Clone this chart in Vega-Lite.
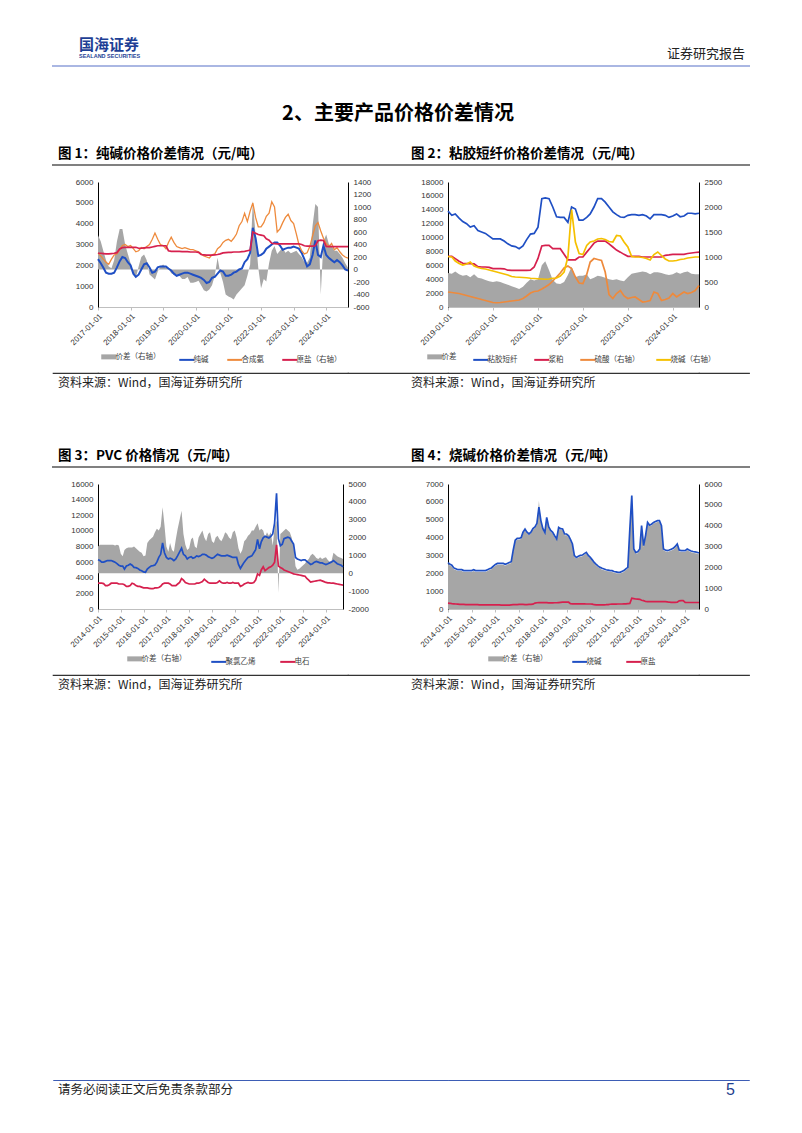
{
"$schema":"https://vega.github.io/schema/vega-lite/v6.json",
"background":"white",
"padding":{"left":52,"top":0,"right":0,"bottom":0},
"spacing":0,
"bounds":"flush",
"align":"each",
"columns":5,
"resolve":{"scale":{"color":"independent"},"legend":{"color":"independent"}},
"config":{
 "view":{"stroke":null},
 "concat":{"spacing":0},
 "font":"Noto Sans CJK SC",
 "axis":{"grid":false,"labelFont":"Liberation Sans","labelFontSize":8,"labelColor":"#333333","domainColor":"#000000","tickColor":"#000000","title":null},
 "legend":{"layout":{"bottom":{"anchor":"middle"}}},
 "line":{"strokeWidth":1.7},
 "area":{"opacity":1}
},
"datasets":{
"c1":[
{"d":"2017-01","a":2300,"b":2600,"c":260,"g":550},{"d":"2017-02","a":2100,"b":2450,"c":260,"g":450},{"d":"2017-03","a":1900,"b":2300,"c":255,"g":300},{"d":"2017-04","a":1650,"b":2150,"c":250,"g":150},{"d":"2017-05","a":1600,"b":2050,"c":250,"g":50},{"d":"2017-06","a":1600,"b":2300,"c":255,"g":20},{"d":"2017-07","a":1650,"b":2500,"c":260,"g":150},{"d":"2017-08","a":1900,"b":2550,"c":270,"g":450},{"d":"2017-09","a":2200,"b":2750,"c":330,"g":650},{"d":"2017-10","a":2400,"b":2950,"c":350,"g":650},{"d":"2017-11","a":2350,"b":3000,"c":355,"g":400},{"d":"2017-12","a":2150,"b":2900,"c":355,"g":250},
{"d":"2018-01","a":2000,"b":2950,"c":355,"g":100},{"d":"2018-02","a":1600,"b":2800,"c":355,"g":-80},{"d":"2018-03","a":1450,"b":2650,"c":355,"g":-130},{"d":"2018-04","a":1550,"b":2700,"c":340,"g":50},{"d":"2018-05","a":1800,"b":2850,"c":340,"g":200},{"d":"2018-06","a":2050,"b":2800,"c":345,"g":240},{"d":"2018-07","a":2100,"b":2900,"c":350,"g":150},{"d":"2018-08","a":1900,"b":3000,"c":350,"g":-80},{"d":"2018-09","a":1650,"b":3250,"c":360,"g":-120},{"d":"2018-10","a":1700,"b":3550,"c":370,"g":-160},{"d":"2018-11","a":1900,"b":3250,"c":380,"g":-30},{"d":"2018-12","a":1950,"b":3000,"c":380,"g":50},
{"d":"2019-01","a":1950,"b":2950,"c":380,"g":80},{"d":"2019-02","a":1950,"b":2800,"c":380,"g":30},{"d":"2019-03","a":1850,"b":3100,"c":300,"g":20},{"d":"2019-04","a":1750,"b":3350,"c":290,"g":-60},{"d":"2019-05","a":1600,"b":3100,"c":290,"g":-80},{"d":"2019-06","a":1500,"b":2900,"c":290,"g":-80},{"d":"2019-07","a":1550,"b":2850,"c":290,"g":-100},{"d":"2019-08","a":1600,"b":2800,"c":285,"g":-150},{"d":"2019-09","a":1650,"b":2850,"c":285,"g":-150},{"d":"2019-10","a":1650,"b":2800,"c":285,"g":-120},{"d":"2019-11","a":1600,"b":2750,"c":280,"g":-210},{"d":"2019-12","a":1550,"b":2750,"c":280,"g":-210},
{"d":"2020-01","a":1500,"b":2700,"c":280,"g":-200},{"d":"2020-02","a":1450,"b":2650,"c":275,"g":-180},{"d":"2020-03","a":1400,"b":2550,"c":240,"g":-250},{"d":"2020-04","a":1300,"b":2450,"c":235,"g":-330},{"d":"2020-05","a":1150,"b":2400,"c":230,"g":-350},{"d":"2020-06","a":1200,"b":2350,"c":230,"g":-320},{"d":"2020-07","a":1400,"b":2500,"c":230,"g":-250},{"d":"2020-08","a":1450,"b":2550,"c":235,"g":-100},{"d":"2020-09","a":1600,"b":2800,"c":240,"g":190},{"d":"2020-10","a":1750,"b":2900,"c":250,"g":-50},{"d":"2020-11","a":1700,"b":3100,"c":265,"g":-200},{"d":"2020-12","a":1500,"b":3200,"c":270,"g":-400},
{"d":"2021-01","a":1500,"b":3250,"c":275,"g":-430},{"d":"2021-02","a":1550,"b":3150,"c":275,"g":-450},{"d":"2021-03","a":1650,"b":3300,"c":280,"g":-480},{"d":"2021-04","a":1700,"b":3500,"c":280,"g":-400},{"d":"2021-05","a":1800,"b":3900,"c":280,"g":-350},{"d":"2021-06","a":1850,"b":4100,"c":285,"g":-300},{"d":"2021-07","a":2150,"b":4500,"c":290,"g":-250},{"d":"2021-08","a":2300,"b":4100,"c":300,"g":-100},{"d":"2021-09","a":2600,"b":4600,"c":310,"g":80},{"d":"2021-10","a":3800,"b":5000,"c":600,"g":1100},{"d":"2021-11","a":3300,"b":4300,"c":580,"g":550},{"d":"2021-12","a":2450,"b":3850,"c":560,"g":30},
{"d":"2022-01","a":2500,"b":3850,"c":550,"g":-300},{"d":"2022-02","a":2600,"b":4050,"c":540,"g":-150},{"d":"2022-03","a":2800,"b":4350,"c":490,"g":-190},{"d":"2022-04","a":2900,"b":4500,"c":470,"g":100},{"d":"2022-05","a":3000,"b":5050,"c":420,"g":300},{"d":"2022-06","a":3100,"b":4800,"c":415,"g":375},{"d":"2022-07","a":3100,"b":3600,"c":410,"g":250},{"d":"2022-08","a":2950,"b":3750,"c":410,"g":300},{"d":"2022-09","a":2750,"b":4050,"c":410,"g":350},{"d":"2022-10","a":2800,"b":4300,"c":410,"g":270},{"d":"2022-11","a":2850,"b":4450,"c":410,"g":300},{"d":"2022-12","a":2850,"b":4150,"c":410,"g":260},
{"d":"2023-01","a":2900,"b":4000,"c":410,"g":280},{"d":"2023-02","a":2850,"b":3500,"c":410,"g":300},{"d":"2023-03","a":2800,"b":3000,"c":410,"g":250},{"d":"2023-04","a":2600,"b":2700,"c":400,"g":200},{"d":"2023-05","a":2300,"b":2550,"c":380,"g":120},{"d":"2023-06","a":1950,"b":2600,"c":375,"g":110},{"d":"2023-07","a":2050,"b":2900,"c":375,"g":190},{"d":"2023-08","a":2500,"b":3400,"c":375,"g":700},{"d":"2023-09","a":3200,"b":3900,"c":380,"g":1050},{"d":"2023-10","a":2500,"b":4050,"c":460,"g":1000},{"d":"2023-11","a":2400,"b":3650,"c":470,"g":-400},{"d":"2023-12","a":2950,"b":3300,"c":465,"g":450},
{"d":"2024-01","a":2500,"b":3050,"c":370,"g":560},{"d":"2024-02","a":2350,"b":2900,"c":365,"g":400},{"d":"2024-03","a":2250,"b":3050,"c":365,"g":380},{"d":"2024-04","a":2150,"b":2750,"c":365,"g":300},{"d":"2024-05","a":2250,"b":2850,"c":365,"g":300},{"d":"2024-06","a":2150,"b":2650,"c":365,"g":250},{"d":"2024-07","a":2000,"b":2500,"c":365,"g":190},{"d":"2024-08","a":1800,"b":2400,"c":365,"g":100},{"d":"2024-09","a":1750,"b":2350,"c":365,"g":30}
],
"c2":[
{"d":"2019-01","a":13800,"b":7300,"g":4900,"s":300,"y":1010},{"d":"2019-02","a":13200,"b":7300,"g":4800,"s":290,"y":1000},{"d":"2019-03","a":13400,"b":6960,"g":5100,"s":280,"y":920},{"d":"2019-04","a":12800,"b":6600,"g":4700,"s":270,"y":870},{"d":"2019-05","a":12300,"b":6300,"g":4500,"s":250,"y":840},{"d":"2019-06","a":12000,"b":6240,"g":4600,"s":230,"y":860},{"d":"2019-07","a":11500,"b":6240,"g":4300,"s":210,"y":900},{"d":"2019-08","a":11700,"b":6200,"g":4700,"s":190,"y":820},{"d":"2019-09","a":11000,"b":5800,"g":4200,"s":170,"y":790},{"d":"2019-10","a":10800,"b":5760,"g":4100,"s":150,"y":770},{"d":"2019-11","a":10600,"b":5760,"g":3900,"s":130,"y":760},{"d":"2019-12","a":10200,"b":5700,"g":3700,"s":110,"y":740},
{"d":"2020-01","a":9800,"b":5520,"g":3600,"s":90,"y":720},{"d":"2020-02","a":9800,"b":5520,"g":3700,"s":85,"y":700},{"d":"2020-03","a":9800,"b":5520,"g":3600,"s":90,"y":680},{"d":"2020-04","a":9500,"b":5500,"g":3400,"s":100,"y":660},{"d":"2020-05","a":9100,"b":5300,"g":3200,"s":110,"y":640},{"d":"2020-06","a":8800,"b":5280,"g":3000,"s":120,"y":610},{"d":"2020-07","a":8700,"b":5280,"g":2800,"s":130,"y":600},{"d":"2020-08","a":8400,"b":5280,"g":2600,"s":140,"y":595},{"d":"2020-09","a":8800,"b":5280,"g":2900,"s":170,"y":590},{"d":"2020-10","a":9700,"b":5280,"g":3500,"s":220,"y":585},{"d":"2020-11","a":10500,"b":5300,"g":4000,"s":280,"y":575},{"d":"2020-12","a":10600,"b":5760,"g":3800,"s":310,"y":570},
{"d":"2021-01","a":11500,"b":7000,"g":4000,"s":320,"y":565},{"d":"2021-02","a":15600,"b":8800,"g":6000,"s":360,"y":560},{"d":"2021-03","a":15700,"b":8880,"g":6600,"s":400,"y":555},{"d":"2021-04","a":15600,"b":8880,"g":5300,"s":450,"y":560},{"d":"2021-05","a":14400,"b":8400,"g":3900,"s":520,"y":575},{"d":"2021-06","a":13000,"b":8400,"g":3400,"s":600,"y":580},{"d":"2021-07","a":12900,"b":8400,"g":3300,"s":680,"y":620},{"d":"2021-08","a":12900,"b":7600,"g":3600,"s":780,"y":700},{"d":"2021-09","a":12200,"b":6800,"g":4600,"s":820,"y":1000},{"d":"2021-10","a":14400,"b":6800,"g":5800,"s":770,"y":1950},{"d":"2021-11","a":14100,"b":6800,"g":4300,"s":600,"y":1300},{"d":"2021-12","a":12500,"b":7200,"g":4500,"s":480,"y":1070},
{"d":"2022-01","a":12500,"b":7200,"g":4500,"s":470,"y":1050},{"d":"2022-02","a":12900,"b":7900,"g":4700,"s":650,"y":1230},{"d":"2022-03","a":13400,"b":8500,"g":4000,"s":900,"y":1300},{"d":"2022-04","a":14400,"b":9200,"g":4200,"s":970,"y":1320},{"d":"2022-05","a":15600,"b":9500,"g":4500,"s":950,"y":1360},{"d":"2022-06","a":15600,"b":9500,"g":4400,"s":930,"y":1370},{"d":"2022-07","a":15100,"b":9500,"g":4200,"s":700,"y":1350},{"d":"2022-08","a":14400,"b":9100,"g":4000,"s":250,"y":1310},{"d":"2022-09","a":13700,"b":8640,"g":3900,"s":170,"y":1300},{"d":"2022-10","a":13300,"b":8200,"g":4000,"s":270,"y":1430},{"d":"2022-11","a":12960,"b":7900,"g":3800,"s":330,"y":1420},{"d":"2022-12","a":12900,"b":7580,"g":3700,"s":220,"y":1300},
{"d":"2023-01","a":13200,"b":7300,"g":4300,"s":170,"y":1200},{"d":"2023-02","a":13300,"b":7300,"g":4800,"s":190,"y":1010},{"d":"2023-03","a":13300,"b":7300,"g":4900,"s":200,"y":1000},{"d":"2023-04","a":13200,"b":7300,"g":5000,"s":150,"y":1000},{"d":"2023-05","a":13300,"b":7200,"g":5100,"s":100,"y":990},{"d":"2023-06","a":13100,"b":7200,"g":5000,"s":110,"y":970},{"d":"2023-07","a":12700,"b":7200,"g":4700,"s":130,"y":940},{"d":"2023-08","a":13300,"b":7200,"g":5000,"s":300,"y":1050},{"d":"2023-09","a":13300,"b":7200,"g":5000,"s":270,"y":1100},{"d":"2023-10","a":13300,"b":7200,"g":4900,"s":130,"y":1030},{"d":"2023-11","a":13200,"b":7440,"g":4700,"s":150,"y":960},{"d":"2023-12","a":12900,"b":7500,"g":4600,"s":180,"y":920},
{"d":"2024-01","a":13100,"b":7580,"g":4700,"s":270,"y":920},{"d":"2024-02","a":13400,"b":7580,"g":5000,"s":200,"y":930},{"d":"2024-03","a":13000,"b":7580,"g":4800,"s":250,"y":950},{"d":"2024-04","a":13100,"b":7580,"g":5000,"s":300,"y":960},{"d":"2024-05","a":13500,"b":7700,"g":5100,"s":270,"y":980},{"d":"2024-06","a":13500,"b":7780,"g":4800,"s":290,"y":990},{"d":"2024-07","a":13400,"b":7850,"g":4700,"s":330,"y":1000},{"d":"2024-08","a":13500,"b":7900,"g":4700,"s":430,"y":1000}
],
"c3":[
{"d":"2014-01","a":6300,"b":3300,"g":1500},{"d":"2014-02","a":6200,"b":3300,"g":1600},{"d":"2014-03","a":6000,"b":3300,"g":1600},{"d":"2014-04","a":6000,"b":3250,"g":1600},{"d":"2014-05","a":6100,"b":3000,"g":1600},{"d":"2014-06","a":6200,"b":3000,"g":1600},{"d":"2014-07","a":6200,"b":3100,"g":1600},{"d":"2014-08","a":6200,"b":3300,"g":1600},{"d":"2014-09","a":6100,"b":3300,"g":1600},{"d":"2014-10","a":6000,"b":3300,"g":1550},{"d":"2014-11","a":5800,"b":3300,"g":1600},{"d":"2014-12","a":5600,"b":3200,"g":1550},
{"d":"2015-01","a":5500,"b":3200,"g":1100},{"d":"2015-02","a":5500,"b":3200,"g":950},{"d":"2015-03","a":5100,"b":3100,"g":1300},{"d":"2015-04","a":5500,"b":2900,"g":1400},{"d":"2015-05","a":5600,"b":2900,"g":1450},{"d":"2015-06","a":5760,"b":3000,"g":1450},{"d":"2015-07","a":5600,"b":3300,"g":1450},{"d":"2015-08","a":5330,"b":3200,"g":1500},{"d":"2015-09","a":5300,"b":3000,"g":1400},{"d":"2015-10","a":5200,"b":2900,"g":1300},{"d":"2015-11","a":5000,"b":2900,"g":1200},{"d":"2015-12","a":4900,"b":2800,"g":1150},
{"d":"2016-01","a":4750,"b":2700,"g":950},{"d":"2016-02","a":4700,"b":2700,"g":1000},{"d":"2016-03","a":5100,"b":2700,"g":1700},{"d":"2016-04","a":5330,"b":2650,"g":1850},{"d":"2016-05","a":5500,"b":2600,"g":1950},{"d":"2016-06","a":5550,"b":2600,"g":2050},{"d":"2016-07","a":5630,"b":2700,"g":2300},{"d":"2016-08","a":6000,"b":2700,"g":2500},{"d":"2016-09","a":6600,"b":2750,"g":2400},{"d":"2016-10","a":7000,"b":2900,"g":2600},{"d":"2016-11","a":8450,"b":3200,"g":3700},{"d":"2016-12","a":7200,"b":3300,"g":2700},
{"d":"2017-01","a":6600,"b":3300,"g":1500},{"d":"2017-02","a":6400,"b":3300,"g":1200},{"d":"2017-03","a":6500,"b":3200,"g":1700},{"d":"2017-04","a":6400,"b":3000,"g":1300},{"d":"2017-05","a":6180,"b":3000,"g":1200},{"d":"2017-06","a":6400,"b":3000,"g":1900},{"d":"2017-07","a":6830,"b":3200,"g":2500},{"d":"2017-08","a":7300,"b":3400,"g":3000},{"d":"2017-09","a":7770,"b":3900,"g":3500},{"d":"2017-10","a":7000,"b":3700,"g":2200},{"d":"2017-11","a":6800,"b":3400,"g":1600},{"d":"2017-12","a":6400,"b":3300,"g":1300},
{"d":"2018-01","a":6600,"b":3200,"g":1400},{"d":"2018-02","a":6700,"b":3200,"g":1900},{"d":"2018-03","a":6500,"b":3200,"g":2000},{"d":"2018-04","a":6600,"b":3200,"g":1500},{"d":"2018-05","a":6800,"b":3300,"g":1400},{"d":"2018-06","a":6700,"b":3300,"g":2000},{"d":"2018-07","a":6800,"b":3400,"g":2200},{"d":"2018-08","a":7000,"b":3500,"g":2400},{"d":"2018-09","a":7000,"b":3800,"g":2000},{"d":"2018-10","a":6900,"b":3600,"g":1800},{"d":"2018-11","a":6700,"b":3400,"g":2200},{"d":"2018-12","a":6600,"b":3300,"g":2300},
{"d":"2019-01","a":6500,"b":3300,"g":1800},{"d":"2019-02","a":6600,"b":3300,"g":1700},{"d":"2019-03","a":6800,"b":3300,"g":2000},{"d":"2019-04","a":7000,"b":3400,"g":2100},{"d":"2019-05","a":6900,"b":3600,"g":1900},{"d":"2019-06","a":6800,"b":3400,"g":1800},{"d":"2019-07","a":6800,"b":3300,"g":2000},{"d":"2019-08","a":6800,"b":3300,"g":2300},{"d":"2019-09","a":6900,"b":3400,"g":2200},{"d":"2019-10","a":6800,"b":3300,"g":2000},{"d":"2019-11","a":6700,"b":3300,"g":1900},{"d":"2019-12","a":6600,"b":3400,"g":2300},
{"d":"2020-01","a":6600,"b":3300,"g":2400},{"d":"2020-02","a":6600,"b":3300,"g":2000},{"d":"2020-03","a":5700,"b":3300,"g":1400},{"d":"2020-04","a":5200,"b":2900,"g":1100},{"d":"2020-05","a":5600,"b":3000,"g":1300},{"d":"2020-06","a":6000,"b":3200,"g":1800},{"d":"2020-07","a":6300,"b":3300,"g":1900},{"d":"2020-08","a":6600,"b":3400,"g":2100},{"d":"2020-09","a":6700,"b":3300,"g":2200},{"d":"2020-10","a":6800,"b":3300,"g":2400},{"d":"2020-11","a":7200,"b":3400,"g":2400},{"d":"2020-12","a":7600,"b":3700,"g":2600},
{"d":"2021-01","a":8900,"b":4500,"g":2800},{"d":"2021-02","a":7700,"b":4300,"g":2400},{"d":"2021-03","a":8600,"b":5000,"g":2500},{"d":"2021-04","a":9100,"b":5400,"g":2400},{"d":"2021-05","a":9300,"b":4900,"g":2000},{"d":"2021-06","a":9200,"b":5100,"g":2300},{"d":"2021-07","a":9100,"b":5300,"g":2100},{"d":"2021-08","a":9300,"b":5400,"g":2300},{"d":"2021-09","a":9600,"b":5600,"g":1550},{"d":"2021-10","a":11000,"b":6000,"g":2570},{"d":"2021-11","a":14800,"b":8200,"g":2950},{"d":"2021-12","a":9000,"b":5500,"g":-1100},
{"d":"2022-01","a":8100,"b":5300,"g":2200},{"d":"2022-02","a":8300,"b":5200,"g":2300},{"d":"2022-03","a":9000,"b":5000,"g":2400},{"d":"2022-04","a":9100,"b":4900,"g":2500},{"d":"2022-05","a":9200,"b":4800,"g":2400},{"d":"2022-06","a":9100,"b":4700,"g":2300},{"d":"2022-07","a":8700,"b":4600,"g":2000},{"d":"2022-08","a":8300,"b":4500,"g":1500},{"d":"2022-09","a":6600,"b":4450,"g":400},{"d":"2022-10","a":6400,"b":4400,"g":200},{"d":"2022-11","a":6300,"b":4350,"g":250},{"d":"2022-12","a":6200,"b":4300,"g":350},
{"d":"2023-01","a":6300,"b":4250,"g":450},{"d":"2023-02","a":6300,"b":4200,"g":550},{"d":"2023-03","a":6100,"b":3900,"g":700},{"d":"2023-04","a":5900,"b":3700,"g":800},{"d":"2023-05","a":5700,"b":3450,"g":1000},{"d":"2023-06","a":5800,"b":3500,"g":1100},{"d":"2023-07","a":6000,"b":3550,"g":1000},{"d":"2023-08","a":6100,"b":3600,"g":850},{"d":"2023-09","a":6000,"b":3650,"g":800},{"d":"2023-10","a":5900,"b":3700,"g":900},{"d":"2023-11","a":5900,"b":3600,"g":800},{"d":"2023-12","a":5800,"b":3500,"g":850},
{"d":"2024-01","a":5700,"b":3400,"g":900},{"d":"2024-02","a":5800,"b":3350,"g":750},{"d":"2024-03","a":5900,"b":3350,"g":650},{"d":"2024-04","a":6000,"b":3300,"g":700},{"d":"2024-05","a":6200,"b":3300,"g":1150},{"d":"2024-06","a":6000,"b":3250,"g":1050},{"d":"2024-07","a":5800,"b":3200,"g":950},{"d":"2024-08","a":5700,"b":3150,"g":900},{"d":"2024-09","a":5600,"b":3100,"g":850},{"d":"2024-10","a":5400,"b":3050,"g":800}
],
"c4":[
{"d":"2014-01","a":2600,"b":330,"g":2170},{"d":"2014-02","a":2500,"b":320,"g":2080},{"d":"2014-03","a":2450,"b":300,"g":2040},{"d":"2014-04","a":2300,"b":290,"g":1910},{"d":"2014-05","a":2250,"b":280,"g":1870},{"d":"2014-06","a":2200,"b":270,"g":1830},{"d":"2014-07","a":2200,"b":260,"g":1830},{"d":"2014-08","a":2200,"b":260,"g":1830},{"d":"2014-09","a":2150,"b":260,"g":1780},{"d":"2014-10","a":2150,"b":250,"g":1780},{"d":"2014-11","a":2150,"b":250,"g":1780},{"d":"2014-12","a":2150,"b":250,"g":1780},
{"d":"2015-01","a":2150,"b":250,"g":1780},{"d":"2015-02","a":2200,"b":250,"g":1830},{"d":"2015-03","a":2150,"b":240,"g":1780},{"d":"2015-04","a":2150,"b":240,"g":1780},{"d":"2015-05","a":2150,"b":230,"g":1780},{"d":"2015-06","a":2150,"b":230,"g":1780},{"d":"2015-07","a":2150,"b":230,"g":1780},{"d":"2015-08","a":2150,"b":230,"g":1780},{"d":"2015-09","a":2200,"b":230,"g":1830},{"d":"2015-10","a":2250,"b":230,"g":1870},{"d":"2015-11","a":2300,"b":230,"g":1910},{"d":"2015-12","a":2400,"b":230,"g":2000},
{"d":"2016-01","a":2500,"b":230,"g":2080},{"d":"2016-02","a":2550,"b":230,"g":2130},{"d":"2016-03","a":2550,"b":230,"g":2130},{"d":"2016-04","a":2550,"b":220,"g":2130},{"d":"2016-05","a":2550,"b":220,"g":2130},{"d":"2016-06","a":2500,"b":220,"g":2080},{"d":"2016-07","a":2550,"b":220,"g":2130},{"d":"2016-08","a":2600,"b":220,"g":2170},{"d":"2016-09","a":2650,"b":230,"g":2210},{"d":"2016-10","a":3300,"b":240,"g":2770},{"d":"2016-11","a":3850,"b":250,"g":3240},{"d":"2016-12","a":3950,"b":250,"g":3330},
{"d":"2017-01","a":3950,"b":260,"g":3330},{"d":"2017-02","a":4000,"b":260,"g":3370},{"d":"2017-03","a":4300,"b":255,"g":3630},{"d":"2017-04","a":4480,"b":250,"g":3780},{"d":"2017-05","a":4300,"b":250,"g":3630},{"d":"2017-06","a":4200,"b":255,"g":3540},{"d":"2017-07","a":4300,"b":260,"g":3630},{"d":"2017-08","a":4500,"b":270,"g":3800},{"d":"2017-09","a":4600,"b":330,"g":3880},{"d":"2017-10","a":4800,"b":350,"g":4050},{"d":"2017-11","a":5700,"b":355,"g":5190},{"d":"2017-12","a":4950,"b":355,"g":4180},
{"d":"2018-01","a":4500,"b":355,"g":3800},{"d":"2018-02","a":4290,"b":355,"g":3620},{"d":"2018-03","a":5130,"b":355,"g":4340},{"d":"2018-04","a":4600,"b":340,"g":3880},{"d":"2018-05","a":4400,"b":340,"g":3710},{"d":"2018-06","a":4290,"b":345,"g":3620},{"d":"2018-07","a":4100,"b":350,"g":3450},{"d":"2018-08","a":3920,"b":350,"g":3300},{"d":"2018-09","a":4570,"b":360,"g":3860},{"d":"2018-10","a":4500,"b":370,"g":3800},{"d":"2018-11","a":4480,"b":380,"g":3780},{"d":"2018-12","a":4200,"b":380,"g":3540},
{"d":"2019-01","a":4200,"b":380,"g":3540},{"d":"2019-02","a":4100,"b":380,"g":3450},{"d":"2019-03","a":3900,"b":300,"g":3280},{"d":"2019-04","a":3640,"b":290,"g":3060},{"d":"2019-05","a":2990,"b":290,"g":2500},{"d":"2019-06","a":2890,"b":290,"g":2420},{"d":"2019-07","a":2950,"b":290,"g":2470},{"d":"2019-08","a":3000,"b":285,"g":2510},{"d":"2019-09","a":3020,"b":285,"g":2530},{"d":"2019-10","a":3100,"b":285,"g":2600},{"d":"2019-11","a":3170,"b":280,"g":2660},{"d":"2019-12","a":3000,"b":280,"g":2510},
{"d":"2020-01","a":2890,"b":280,"g":2420},{"d":"2020-02","a":2750,"b":275,"g":2300},{"d":"2020-03","a":2610,"b":240,"g":2180},{"d":"2020-04","a":2500,"b":235,"g":2080},{"d":"2020-05","a":2400,"b":230,"g":2000},{"d":"2020-06","a":2330,"b":230,"g":1940},{"d":"2020-07","a":2280,"b":230,"g":1890},{"d":"2020-08","a":2240,"b":235,"g":1860},{"d":"2020-09","a":2200,"b":240,"g":1830},{"d":"2020-10","a":2180,"b":250,"g":1810},{"d":"2020-11","a":2150,"b":265,"g":1780},{"d":"2020-12","a":2150,"b":270,"g":1780},
{"d":"2021-01","a":2100,"b":275,"g":1740},{"d":"2021-02","a":2080,"b":275,"g":1720},{"d":"2021-03","a":2050,"b":280,"g":1700},{"d":"2021-04","a":2050,"b":280,"g":1700},{"d":"2021-05","a":2100,"b":280,"g":1740},{"d":"2021-06","a":2150,"b":285,"g":1780},{"d":"2021-07","a":2250,"b":290,"g":1870},{"d":"2021-08","a":2330,"b":300,"g":1940},{"d":"2021-09","a":4480,"b":310,"g":3780},{"d":"2021-10","a":6350,"b":600,"g":5380},{"d":"2021-11","a":3360,"b":580,"g":2820},{"d":"2021-12","a":3170,"b":560,"g":2660},
{"d":"2022-01","a":3200,"b":550,"g":2680},{"d":"2022-02","a":3360,"b":540,"g":2820},{"d":"2022-03","a":4670,"b":490,"g":3940},{"d":"2022-04","a":3550,"b":470,"g":2980},{"d":"2022-05","a":4110,"b":420,"g":3460},{"d":"2022-06","a":4850,"b":415,"g":4100},{"d":"2022-07","a":4700,"b":410,"g":3970},{"d":"2022-08","a":4750,"b":410,"g":4010},{"d":"2022-09","a":4850,"b":410,"g":4100},{"d":"2022-10","a":4900,"b":410,"g":4140},{"d":"2022-11","a":4950,"b":410,"g":4180},{"d":"2022-12","a":4950,"b":410,"g":4180},
{"d":"2023-01","a":4670,"b":410,"g":3940},{"d":"2023-02","a":3360,"b":410,"g":2820},{"d":"2023-03","a":3300,"b":410,"g":2770},{"d":"2023-04","a":3270,"b":400,"g":2740},{"d":"2023-05","a":3300,"b":380,"g":2770},{"d":"2023-06","a":3350,"b":375,"g":2810},{"d":"2023-07","a":3400,"b":375,"g":2850},{"d":"2023-08","a":3500,"b":375,"g":2940},{"d":"2023-09","a":3640,"b":380,"g":3060},{"d":"2023-10","a":3300,"b":460,"g":2770},{"d":"2023-11","a":3270,"b":470,"g":2740},{"d":"2023-12","a":3270,"b":465,"g":2740},
{"d":"2024-01","a":3270,"b":370,"g":2740},{"d":"2024-02","a":3360,"b":365,"g":2820},{"d":"2024-03","a":3300,"b":365,"g":2770},{"d":"2024-04","a":3250,"b":365,"g":2730},{"d":"2024-05","a":3220,"b":365,"g":2700},{"d":"2024-06","a":3200,"b":365,"g":2680},{"d":"2024-07","a":3180,"b":365,"g":2660},{"d":"2024-08","a":3140,"b":365,"g":2630}
]
},
"concat":[
{"width":45,"height":66,"data":{"values":[]},"mark":"point"},
{"width":1,"height":1,"data":{"values":[]},"mark":"point"},
{"width":1,"height":1,"data":{"values":[]},"mark":"point"},
{"width":1,"height":1,"data":{"values":[]},"mark":"point"},
{"width":1,"height":1,"data":{"values":[]},"mark":"point"},

{"width":45,"height":0.01,"data":{"values":[]},"mark":"point","view":{"stroke":"#aab7e3","strokeWidth":2},
 "title":{"text":"国海证券","subtitle":"SEALAND SECURITIES","anchor":"start","dx":26,"offset":7,"fontSize":15,"font":"Noto Sans CJK SC","fontWeight":"bold","color":"#1e3f95","subtitleFont":"Liberation Sans","subtitleFontSize":5.5,"subtitleFontWeight":"bold","subtitleColor":"#1e3f95","subtitlePadding":1}},
{"width":250,"height":0.01,"data":{"values":[]},"mark":"point","view":{"stroke":"#aab7e3","strokeWidth":2}},
{"width":100,"height":0.01,"data":{"values":[]},"mark":"point","view":{"stroke":"#aab7e3","strokeWidth":2}},
{"width":251,"height":0.01,"data":{"values":[]},"mark":"point","view":{"stroke":"#aab7e3","strokeWidth":2}},
{"width":50,"height":0.01,"data":{"values":[]},"mark":"point","view":{"stroke":"#aab7e3","strokeWidth":2},
 "title":{"text":"证券研究报告","anchor":"end","dx":-4,"offset":5,"fontSize":13,"font":"Noto Sans CJK SC","fontWeight":"normal","color":"#222222"}},

{"width":1,"height":98,"data":{"values":[]},"mark":"point"},
{"width":1,"height":1,"data":{"values":[]},"mark":"point"},
{"width":100,"height":1,"data":{"values":[]},"mark":"point",
 "title":{"text":"2、主要产品价格价差情况","anchor":"middle","offset":0,"dy":57,"fontSize":20,"font":"Noto Sans CJK SC","fontWeight":"bold","color":"#000000"}},
{"width":1,"height":1,"data":{"values":[]},"mark":"point"},
{"width":1,"height":1,"data":{"values":[]},"mark":"point"},

{"width":45,"height":0.01,"data":{"values":[]},"mark":"point","view":{"stroke":"#808080","strokeWidth":2},
 "title":{"text":"图 1：纯碱价格价差情况（元/吨）","anchor":"start","dx":5,"offset":5,"fontSize":13.5,"font":"Noto Sans CJK SC","fontWeight":"bold","color":"#000000"}},
{"width":250,"height":0.01,"data":{"values":[]},"mark":"point","view":{"stroke":"#808080","strokeWidth":2}},
{"width":100,"height":0.01,"data":{"values":[]},"mark":"point","view":{"stroke":"#808080","strokeWidth":2},
 "title":{"text":"图 2：粘胶短纤价格价差情况（元/吨）","anchor":"start","dx":63,"offset":5,"fontSize":13.5,"font":"Noto Sans CJK SC","fontWeight":"bold","color":"#000000"}},
{"width":251,"height":0.01,"data":{"values":[]},"mark":"point","view":{"stroke":"#808080","strokeWidth":2}},
{"width":50,"height":0.01,"data":{"values":[]},"mark":"point","view":{"stroke":"#808080","strokeWidth":2}},

{"width":1,"height":16,"data":{"values":[]},"mark":"point"},
{"width":1,"height":1,"data":{"values":[]},"mark":"point"},
{"width":1,"height":1,"data":{"values":[]},"mark":"point"},
{"width":1,"height":1,"data":{"values":[]},"mark":"point"},
{"width":1,"height":1,"data":{"values":[]},"mark":"point"},

{"width":45,"height":125,"data":{"values":[]},"mark":"point"},
{"width":250,"height":125,"data":{"name":"c1"},
 "encoding":{"x":{"field":"d","type":"temporal","scale":{"type":"utc","domain":[{"year":2017,"month":1,"date":1,"utc":true},{"year":2024,"month":9,"date":1,"utc":true}]},
  "axis":{"format":"%Y-%m-%d","tickCount":{"interval":"year","step":1},"labelAngle":-45,"labelOverlap":false,"labelFlush":false,"labelBound":false,"ticks":true,"tickSize":3,"tickColor":"#bfbfbf","domainColor":"#bfbfbf","labelPadding":2,"title":null}}},
 "layer":[
  {"mark":{"type":"area"},"encoding":{"y":{"field":"g","type":"quantitative","scale":{"domain":[-600,1400],"nice":false,"zero":false},"axis":{"orient":"right","values":[-600,-400,-200,0,200,400,600,800,1000,1200,1400],"labelExpr":"'' + datum.value","ticks":false,"labelPadding":5,"title":null}},"y2":{"datum":0},
    "color":{"datum":"价差（右轴）","scale":{"domain":["价差（右轴）","纯碱","合成氨","原盐（右轴）"],"range":["#a6a6a6","#1f4fc4","#ee8a3c","#d6204e"]},
     "legend":{"orient":"bottom","direction":"horizontal","title":null,"symbolType":"stroke","symbolSize":225,"labelFont":"Noto Sans CJK SC","labelFontSize":7.5,"labelColor":"#404040","columnPadding":14,"offset":6,"labelOffset":3,
      "encode":{"symbols":{"update":{"stroke":{"signal":"['#a6a6a6','#1f4fc4','#ee8a3c','#d6204e'][datum.index]"},"strokeWidth":{"signal":"datum.index === 0 ? 5 : 2"},"fill":{"value":"transparent"},"opacity":{"value":1}}}}}}}},
  {"mark":{"type":"line","strokeWidth":2},"encoding":{"y":{"field":"a","type":"quantitative","scale":{"domain":[0,6000],"nice":false},"axis":{"orient":"left","values":[0,1000,2000,3000,4000,5000,6000],"labelExpr":"'' + datum.value","ticks":false,"labelPadding":5,"title":null}},
    "color":{"datum":"纯碱","scale":{"domain":["价差（右轴）","纯碱","合成氨","原盐（右轴）"],"range":["#a6a6a6","#1f4fc4","#ee8a3c","#d6204e"]}}}},
  {"mark":{"type":"line","strokeWidth":1.3},"encoding":{"y":{"field":"b","type":"quantitative","scale":{"domain":[0,6000],"nice":false},"axis":null},
    "color":{"datum":"合成氨","scale":{"domain":["价差（右轴）","纯碱","合成氨","原盐（右轴）"],"range":["#a6a6a6","#1f4fc4","#ee8a3c","#d6204e"]}}}},
  {"mark":{"type":"line","strokeWidth":1.7},"encoding":{"y":{"field":"c","type":"quantitative","scale":{"domain":[-600,1400],"nice":false,"zero":false},"axis":null},
    "color":{"datum":"原盐（右轴）","scale":{"domain":["价差（右轴）","纯碱","合成氨","原盐（右轴）"],"range":["#a6a6a6","#1f4fc4","#ee8a3c","#d6204e"]}}}}
 ],
 "resolve":{"scale":{"y":"independent"}}},
{"width":100,"height":1,"data":{"values":[]},"mark":"point"},
{"width":251,"height":125,"data":{"name":"c2"},
 "encoding":{"x":{"field":"d","type":"temporal","scale":{"type":"utc","domain":[{"year":2019,"month":1,"date":1,"utc":true},{"year":2024,"month":8,"date":1,"utc":true}]},
  "axis":{"format":"%Y-%m-%d","tickCount":{"interval":"year","step":1},"labelAngle":-45,"labelOverlap":false,"labelFlush":false,"labelBound":false,"ticks":true,"tickSize":3,"tickColor":"#bfbfbf","domainColor":"#bfbfbf","labelPadding":2,"title":null}}},
 "layer":[
  {"mark":{"type":"area"},"encoding":{"y":{"field":"g","type":"quantitative","scale":{"domain":[0,18000],"nice":false},"axis":{"orient":"left","values":[0,2000,4000,6000,8000,10000,12000,14000,16000,18000],"labelExpr":"'' + datum.value","ticks":false,"labelPadding":5,"title":null}},
    "color":{"datum":"价差","scale":{"domain":["价差","粘胶短纤","浆粕","硫酸（右轴）","烧碱（右轴）"],"range":["#a6a6a6","#1f4fc4","#d6204e","#ee8a3c","#f5c000"]},
     "legend":{"orient":"bottom","direction":"horizontal","title":null,"symbolType":"stroke","symbolSize":225,"labelFont":"Noto Sans CJK SC","labelFontSize":7.5,"labelColor":"#404040","columnPadding":12,"offset":6,"labelOffset":3,
      "encode":{"symbols":{"update":{"stroke":{"signal":"['#a6a6a6','#1f4fc4','#d6204e','#ee8a3c','#f5c000'][datum.index]"},"strokeWidth":{"signal":"datum.index === 0 ? 5 : 2"},"fill":{"value":"transparent"},"opacity":{"value":1}}}}}}}},
  {"mark":{"type":"line"},"encoding":{"y":{"field":"a","type":"quantitative","scale":{"domain":[0,18000],"nice":false},"axis":null},
    "color":{"datum":"粘胶短纤","scale":{"domain":["价差","粘胶短纤","浆粕","硫酸（右轴）","烧碱（右轴）"],"range":["#a6a6a6","#1f4fc4","#d6204e","#ee8a3c","#f5c000"]}}}},
  {"mark":{"type":"line"},"encoding":{"y":{"field":"b","type":"quantitative","scale":{"domain":[0,18000],"nice":false},"axis":null},
    "color":{"datum":"浆粕","scale":{"domain":["价差","粘胶短纤","浆粕","硫酸（右轴）","烧碱（右轴）"],"range":["#a6a6a6","#1f4fc4","#d6204e","#ee8a3c","#f5c000"]}}}},
  {"mark":{"type":"line"},"encoding":{"y":{"field":"s","type":"quantitative","scale":{"domain":[0,2500],"nice":false},"axis":{"orient":"right","values":[0,500,1000,1500,2000,2500],"labelExpr":"'' + datum.value","ticks":false,"labelPadding":5,"title":null}},
    "color":{"datum":"硫酸（右轴）","scale":{"domain":["价差","粘胶短纤","浆粕","硫酸（右轴）","烧碱（右轴）"],"range":["#a6a6a6","#1f4fc4","#d6204e","#ee8a3c","#f5c000"]}}}},
  {"mark":{"type":"line"},"encoding":{"y":{"field":"y","type":"quantitative","scale":{"domain":[0,2500],"nice":false},"axis":null},
    "color":{"datum":"烧碱（右轴）","scale":{"domain":["价差","粘胶短纤","浆粕","硫酸（右轴）","烧碱（右轴）"],"range":["#a6a6a6","#1f4fc4","#d6204e","#ee8a3c","#f5c000"]}}}}
 ],
 "resolve":{"scale":{"y":"independent"}}},
{"width":50,"height":1,"data":{"values":[]},"mark":"point"},

{"width":1,"height":66,"data":{"values":[]},"mark":"point"},
{"width":1,"height":1,"data":{"values":[]},"mark":"point"},
{"width":1,"height":1,"data":{"values":[]},"mark":"point"},
{"width":1,"height":1,"data":{"values":[]},"mark":"point"},
{"width":1,"height":1,"data":{"values":[]},"mark":"point"},

{"width":45,"height":0.01,"data":{"values":[]},"mark":"point","view":{"stroke":"#333333","strokeWidth":1.2},
 "title":{"text":"资料来源：Wind，国海证券研究所","orient":"bottom","anchor":"start","dx":5,"offset":5,"fontSize":12,"font":"Noto Sans CJK SC","fontWeight":"normal","color":"#222222"}},
{"width":250,"height":0.01,"data":{"values":[]},"mark":"point","view":{"stroke":"#333333","strokeWidth":1.2}},
{"width":100,"height":0.01,"data":{"values":[]},"mark":"point","view":{"stroke":"#333333","strokeWidth":1.2},
 "title":{"text":"资料来源：Wind，国海证券研究所","orient":"bottom","anchor":"start","dx":63,"offset":5,"fontSize":12,"font":"Noto Sans CJK SC","fontWeight":"normal","color":"#222222"}},
{"width":251,"height":0.01,"data":{"values":[]},"mark":"point","view":{"stroke":"#333333","strokeWidth":1.2}},
{"width":50,"height":0.01,"data":{"values":[]},"mark":"point","view":{"stroke":"#333333","strokeWidth":1.2}},

{"width":1,"height":93,"data":{"values":[]},"mark":"point"},
{"width":1,"height":1,"data":{"values":[]},"mark":"point"},
{"width":1,"height":1,"data":{"values":[]},"mark":"point"},
{"width":1,"height":1,"data":{"values":[]},"mark":"point"},
{"width":1,"height":1,"data":{"values":[]},"mark":"point"},

{"width":45,"height":0.01,"data":{"values":[]},"mark":"point","view":{"stroke":"#808080","strokeWidth":2},
 "title":{"text":"图 3：PVC 价格情况（元/吨）","anchor":"start","dx":5,"offset":5,"fontSize":13.5,"font":"Noto Sans CJK SC","fontWeight":"bold","color":"#000000"}},
{"width":250,"height":0.01,"data":{"values":[]},"mark":"point","view":{"stroke":"#808080","strokeWidth":2}},
{"width":100,"height":0.01,"data":{"values":[]},"mark":"point","view":{"stroke":"#808080","strokeWidth":2},
 "title":{"text":"图 4：烧碱价格价差情况（元/吨）","anchor":"start","dx":63,"offset":5,"fontSize":13.5,"font":"Noto Sans CJK SC","fontWeight":"bold","color":"#000000"}},
{"width":251,"height":0.01,"data":{"values":[]},"mark":"point","view":{"stroke":"#808080","strokeWidth":2}},
{"width":50,"height":0.01,"data":{"values":[]},"mark":"point","view":{"stroke":"#808080","strokeWidth":2}},

{"width":1,"height":16,"data":{"values":[]},"mark":"point"},
{"width":1,"height":1,"data":{"values":[]},"mark":"point"},
{"width":1,"height":1,"data":{"values":[]},"mark":"point"},
{"width":1,"height":1,"data":{"values":[]},"mark":"point"},
{"width":1,"height":1,"data":{"values":[]},"mark":"point"},

{"width":45,"height":125,"data":{"values":[]},"mark":"point"},
{"width":245,"height":125,"data":{"name":"c3"},
 "encoding":{"x":{"field":"d","type":"temporal","scale":{"type":"utc","domain":[{"year":2014,"month":1,"date":1,"utc":true},{"year":2024,"month":10,"date":1,"utc":true}]},
  "axis":{"format":"%Y-%m-%d","tickCount":{"interval":"year","step":1},"labelAngle":-45,"labelOverlap":false,"labelFlush":false,"labelBound":false,"ticks":true,"tickSize":3,"tickColor":"#bfbfbf","domainColor":"#bfbfbf","labelPadding":2,"title":null}}},
 "layer":[
  {"mark":{"type":"area"},"encoding":{"y":{"field":"g","type":"quantitative","scale":{"domain":[-2000,5000],"nice":false,"zero":false},"axis":{"orient":"right","values":[-2000,-1000,0,1000,2000,3000,4000,5000],"labelExpr":"'' + datum.value","ticks":false,"labelPadding":5,"title":null}},"y2":{"datum":0},
    "color":{"datum":"价差（右轴）","scale":{"domain":["价差（右轴）","聚氯乙烯","电石"],"range":["#a6a6a6","#1f4fc4","#d6204e"]},
     "legend":{"orient":"bottom","direction":"horizontal","title":null,"symbolType":"stroke","symbolSize":225,"labelFont":"Noto Sans CJK SC","labelFontSize":7.5,"labelColor":"#404040","columnPadding":20,"offset":6,"labelOffset":3,
      "encode":{"symbols":{"update":{"stroke":{"signal":"['#a6a6a6','#1f4fc4','#d6204e'][datum.index]"},"strokeWidth":{"signal":"datum.index === 0 ? 5 : 2"},"fill":{"value":"transparent"},"opacity":{"value":1}}}}}}}},
  {"mark":{"type":"line"},"encoding":{"y":{"field":"a","type":"quantitative","scale":{"domain":[0,16000],"nice":false},"axis":{"orient":"left","values":[0,2000,4000,6000,8000,10000,12000,14000,16000],"labelExpr":"'' + datum.value","ticks":false,"labelPadding":5,"title":null}},
    "color":{"datum":"聚氯乙烯","scale":{"domain":["价差（右轴）","聚氯乙烯","电石"],"range":["#a6a6a6","#1f4fc4","#d6204e"]}}}},
  {"mark":{"type":"line"},"encoding":{"y":{"field":"b","type":"quantitative","scale":{"domain":[0,16000],"nice":false},"axis":null},
    "color":{"datum":"电石","scale":{"domain":["价差（右轴）","聚氯乙烯","电石"],"range":["#a6a6a6","#1f4fc4","#d6204e"]}}}}
 ],
 "resolve":{"scale":{"y":"independent"}}},
{"width":100,"height":1,"data":{"values":[]},"mark":"point"},
{"width":251,"height":125,"data":{"name":"c4"},
 "encoding":{"x":{"field":"d","type":"temporal","scale":{"type":"utc","domain":[{"year":2014,"month":1,"date":1,"utc":true},{"year":2024,"month":8,"date":1,"utc":true}]},
  "axis":{"format":"%Y-%m-%d","tickCount":{"interval":"year","step":1},"labelAngle":-45,"labelOverlap":false,"labelFlush":false,"labelBound":false,"ticks":true,"tickSize":3,"tickColor":"#bfbfbf","domainColor":"#bfbfbf","labelPadding":2,"title":null}}},
 "layer":[
  {"mark":{"type":"area"},"encoding":{"y":{"field":"g","type":"quantitative","scale":{"domain":[0,6000],"nice":false},"axis":{"orient":"right","values":[0,1000,2000,3000,4000,5000,6000],"labelExpr":"'' + datum.value","ticks":false,"labelPadding":5,"title":null}},
    "color":{"datum":"价差（右轴）","scale":{"domain":["价差（右轴）","烧碱","原盐"],"range":["#a6a6a6","#1f4fc4","#d6204e"]},
     "legend":{"orient":"bottom","direction":"horizontal","title":null,"symbolType":"stroke","symbolSize":225,"labelFont":"Noto Sans CJK SC","labelFontSize":7.5,"labelColor":"#404040","columnPadding":20,"offset":6,"labelOffset":3,
      "encode":{"symbols":{"update":{"stroke":{"signal":"['#a6a6a6','#1f4fc4','#d6204e'][datum.index]"},"strokeWidth":{"signal":"datum.index === 0 ? 5 : 2"},"fill":{"value":"transparent"},"opacity":{"value":1}}}}}}}},
  {"mark":{"type":"line"},"encoding":{"y":{"field":"a","type":"quantitative","scale":{"domain":[0,7000],"nice":false},"axis":{"orient":"left","values":[0,1000,2000,3000,4000,5000,6000,7000],"labelExpr":"'' + datum.value","ticks":false,"labelPadding":5,"title":null}},
    "color":{"datum":"烧碱","scale":{"domain":["价差（右轴）","烧碱","原盐"],"range":["#a6a6a6","#1f4fc4","#d6204e"]}}}},
  {"mark":{"type":"line"},"encoding":{"y":{"field":"b","type":"quantitative","scale":{"domain":[0,7000],"nice":false},"axis":null},
    "color":{"datum":"原盐","scale":{"domain":["价差（右轴）","烧碱","原盐"],"range":["#a6a6a6","#1f4fc4","#d6204e"]}}}}
 ],
 "resolve":{"scale":{"y":"independent"}}},
{"width":50,"height":1,"data":{"values":[]},"mark":"point"},

{"width":1,"height":66,"data":{"values":[]},"mark":"point"},
{"width":1,"height":1,"data":{"values":[]},"mark":"point"},
{"width":1,"height":1,"data":{"values":[]},"mark":"point"},
{"width":1,"height":1,"data":{"values":[]},"mark":"point"},
{"width":1,"height":1,"data":{"values":[]},"mark":"point"},

{"width":45,"height":0.01,"data":{"values":[]},"mark":"point","view":{"stroke":"#333333","strokeWidth":1.2},
 "title":{"text":"资料来源：Wind，国海证券研究所","orient":"bottom","anchor":"start","dx":5,"offset":5,"fontSize":12,"font":"Noto Sans CJK SC","fontWeight":"normal","color":"#222222"}},
{"width":250,"height":0.01,"data":{"values":[]},"mark":"point","view":{"stroke":"#333333","strokeWidth":1.2}},
{"width":100,"height":0.01,"data":{"values":[]},"mark":"point","view":{"stroke":"#333333","strokeWidth":1.2},
 "title":{"text":"资料来源：Wind，国海证券研究所","orient":"bottom","anchor":"start","dx":63,"offset":5,"fontSize":12,"font":"Noto Sans CJK SC","fontWeight":"normal","color":"#222222"}},
{"width":251,"height":0.01,"data":{"values":[]},"mark":"point","view":{"stroke":"#333333","strokeWidth":1.2}},
{"width":50,"height":0.01,"data":{"values":[]},"mark":"point","view":{"stroke":"#333333","strokeWidth":1.2}},

{"width":1,"height":404,"data":{"values":[]},"mark":"point"},
{"width":1,"height":1,"data":{"values":[]},"mark":"point"},
{"width":1,"height":1,"data":{"values":[]},"mark":"point"},
{"width":1,"height":1,"data":{"values":[]},"mark":"point"},
{"width":1,"height":1,"data":{"values":[]},"mark":"point"},

{"width":45,"height":0.01,"data":{"values":[]},"mark":"point","view":{"stroke":"#3d5db5","strokeWidth":1},
 "title":{"text":"请务必阅读正文后免责条款部分","orient":"bottom","anchor":"start","dx":5,"offset":4,"fontSize":12.5,"font":"Noto Sans CJK SC","fontWeight":"normal","color":"#222222"}},
{"width":250,"height":0.01,"data":{"values":[]},"mark":"point","view":{"stroke":"#3d5db5","strokeWidth":1}},
{"width":100,"height":0.01,"data":{"values":[]},"mark":"point","view":{"stroke":"#3d5db5","strokeWidth":1}},
{"width":251,"height":0.01,"data":{"values":[]},"mark":"point","view":{"stroke":"#3d5db5","strokeWidth":1}},
{"width":50,"height":0.01,"data":{"values":[]},"mark":"point","view":{"stroke":"#3d5db5","strokeWidth":1},
 "title":{"text":"5","orient":"bottom","anchor":"end","dx":-14,"offset":2,"fontSize":16,"font":"Liberation Sans","fontWeight":"normal","color":"#1f3f8f"}}
]
}
